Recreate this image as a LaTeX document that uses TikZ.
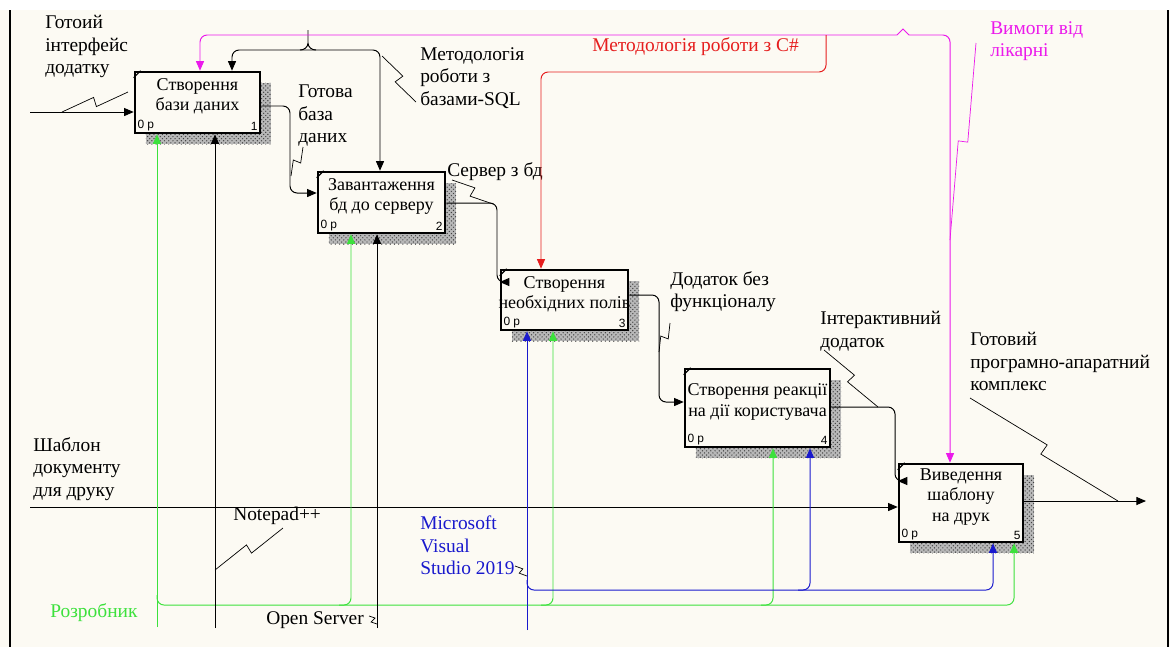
\documentclass[tikz,border=0pt]{standalone}
\usepackage{fontspec}
\setmainfont{Liberation Serif}
\newfontfamily\numfont{Liberation Sans}
\usetikzlibrary{arrows.meta,calc,patterns}
\definecolor{bg}{RGB}{252,250,243}
\definecolor{grn}{RGB}{60,225,60}
\definecolor{blu}{RGB}{25,25,205}
\definecolor{mag}{RGB}{235,25,235}
\definecolor{rd}{RGB}{230,30,30}
% label connector with a zigzag in the middle
\newcommand\squig[3]{\draw[sq] (#1) -- ($(#1)!0.5!(#2)!#3!90:(#2)$) -- ($(#1)!0.5!(#2)!#3!-90:(#2)$) -- (#2);}
% activity box: name, centre, width, height, number, text
\newcommand\actbox[6]{%
  \node[hatch, minimum width=#3, minimum height=#4] at ($(#2)+(11,11)$) {};
  \node[fn, minimum width=#3, minimum height=#4] (#1) at (#2) {};
  \draw[line width=0.8pt] ($(#1.north west)+(0,7)$) -- ($(#1.north west)+(7,0)$);
  \node[num, anchor=south west] at (#1.south west) {0 p};
  \node[num, anchor=south east] at (#1.south east) {#5};
  \node[boxtxt] (#1t) at ($(#1.center)+(0,-6)$) {#6};
}

\begin{document}
\begin{tikzpicture}[x=0.025cm, y=-0.025cm,
    fn/.style={draw, line width=1.8pt, fill=bg, inner sep=0pt},
    hatch/.style={preaction={fill=black!28}, pattern=crosshatch dots, pattern color=black!75, inner sep=0pt},
    num/.style={font=\numfont\fontsize{8.5}{9}\selectfont, inner sep=2.5pt},
    boxtxt/.style={font=\fontsize{12.8}{14.5}\selectfont, align=center, inner sep=0pt},
    lbl/.style={font=\fontsize{13.8}{16}\selectfont, align=left, anchor=north west, inner sep=0pt},
    arr/.style={-{Triangle[length=0.24cm, width=0.2cm]}, line width=0.7pt},
    both/.style={{Triangle[length=0.24cm, width=0.2cm]}-{Triangle[length=0.24cm, width=0.2cm]}, line width=0.7pt},
    rc/.style={rounded corners=5},
    sq/.style={line width=0.5pt}]
  \useasboundingbox (0,0) rectangle (1170,647);
  \fill[bg] (0,10) rectangle (1170,647);
  \draw[line width=2pt] (10,10) -- (10,647);
  \draw[line width=0.8pt] (1168,10) -- (1168,647);

  % boxes
  \actbox{b1}{197.5,102.5}{3.125cm}{1.525cm}{1}{Створення\\бази даних}
  \actbox{b2}{381.5,202.5}{3.175cm}{1.525cm}{2}{Завантаження\\бд до серверу}
  \actbox{b3}{564.5,300}{3.175cm}{1.5cm}{3}{Створення\\необхідних полів}
  \actbox{b4}{757.5,408}{3.625cm}{1.95cm}{4}{Створення реакції\\на дії користувача}
  \actbox{b5}{961,503}{3.1cm}{1.95cm}{5}{Виведення\\шаблону\\на друк}

  % labels
  \node[lbl] (gotin) at (45,15) {Готоий\\інтерфейс\\додатку};
  \node[lbl] (metsql) at (420,47) {Методологія\\роботи з\\базами-SQL};
  \node[lbl] (gotbaza) at (298,85) {Готова\\база\\даних};
  \node[lbl, text=rd] (metc) at (592,37) {Методологія роботи з С\#};
  \node[lbl, text=mag] (vymogy) at (990,21) {Вимоги від\\лікарні};
  \node[lbl] (server) at (447,162) {Сервер з бд};
  \node[lbl] (dodbez) at (670,271) {Додаток без\\функціоналу};
  \node[lbl] (inter) at (820,311) {Інтерактивний\\додаток};
  \node[lbl] (gotkompl) at (970,332) {Готовий\\програмно-апаратний\\комплекс};
  \node[lbl] (shablon) at (33,437) {Шаблон\\документу\\для друку};
  \node[lbl] (notepad) at (233,507) {Notepad++};
  \node[lbl, text=blu] (msvs) at (420,516) {Microsoft\\Visual\\Studio 2019};
  \node[lbl, text=grn] (rozrob) at (50,603) {Розробник};
  \node[lbl] (openserv) at (266,611) {Open Server};

  % inputs and output
  \coordinate (in1) at (30,112);
  \coordinate (in5) at (30,507);
  \coordinate (out5) at (1146,501);
  \draw[arr] (in1) -- (in1 -| b1.west);
  \draw[arr] (in5) -- (in5 -| b5.west);
  \draw[arr] (out5 -| b5.east) -- (out5);

  % box to box
  \foreach \a/\b/\yo/\xc/\yi in {b1/b2/106/290/193, b2/b3/203/497/282, b3/b4/295/659/402, b4/b5/407/895/481}
    \draw[arr, rc] (\a.east |- 0,\yo) -| (\xc,\yi) -- (\b.west |- 0,\yi);

  % controls
  \coordinate (brc) at (308,30);
  \draw[both, rc] (b1.north -| 232,0) |- (308,50) -| (b2.north -| 380,0);
  \draw[line width=0.7pt] (brc) -- (308,43) to[out=-90, in=0] (300,50) (308,43) to[out=-90, in=180] (316,50);
  \coordinate (hmp) at (903,29);
  \draw[arr, mag, rc] (897,35) -| (b1.north -| 200,0);
  \draw[mag, line width=0.7pt] (897,35) -- (hmp) -- (909,35);
  \draw[arr, mag, rc] (909,35) -| (b5.north -| 950,0);
  \draw[arr, rd, rc] (826,35) |- (541,72) -- (b3.north -| 541,0);

  % mechanisms
  \coordinate (rz) at (157,627);
  \draw[arr, grn] (rz) -- (b1.south -| rz);
  \draw[arr, grn, rc] (157,595) |- (1014,605) -- (b5.south -| 1014,0);
  \foreach \x/\b in {351/b2, 553/b3, 773/b4}
    \draw[arr, grn, rc] ({\x-12},605) -| (\b.south -| \x,0);
  \coordinate (vs) at (527,630);
  \draw[arr, blu] (vs) -- (b3.south -| vs);
  \draw[arr, blu, rc] (527,580) |- (993,590) -- (b5.south -| 993,0);
  \draw[arr, blu, rc] (798,590) -| (b4.south -| 810,0);
  \coordinate (np) at (215,628);
  \coordinate (os) at (377,628);
  \draw[arr] (np) -- (b1.south -| np);
  \draw[arr] (os) -- (b2.south -| os);

  % label connectors
  \coordinate (s1) at (62,112);
  \coordinate (s2) at (382,56);
  \coordinate (s3) at (291,176);
  \coordinate (s4) at (493,204);
  \coordinate (s5) at (950,240);
  \coordinate (s6) at (659,352);
  \coordinate (s7) at (878,407);
  \coordinate (s8) at (1118,501);
  \coordinate (s9) at (215,570);
  \coordinate (s10) at (377,624);
  \coordinate (s11) at (527,576);
  \squig{128,92}{s1}{0.12cm}
  \squig{416,102}{s2}{0.12cm}
  \squig{303,147}{s3}{0.1cm}
  \squig{452,180}{s4}{0.12cm}
  \begin{scope}[mag]\squig{976,43}{s5}{0.12cm}\end{scope}
  \squig{670,323}{s6}{0.1cm}
  \squig{824,350}{s7}{0.12cm}
  \squig{970,398}{s8}{0.14cm}
  \squig{283,528}{s9}{0.12cm}
  \squig{369,616}{s10}{0.07cm}
  \squig{515,566}{s11}{0.07cm}
\end{tikzpicture}
\end{document}
